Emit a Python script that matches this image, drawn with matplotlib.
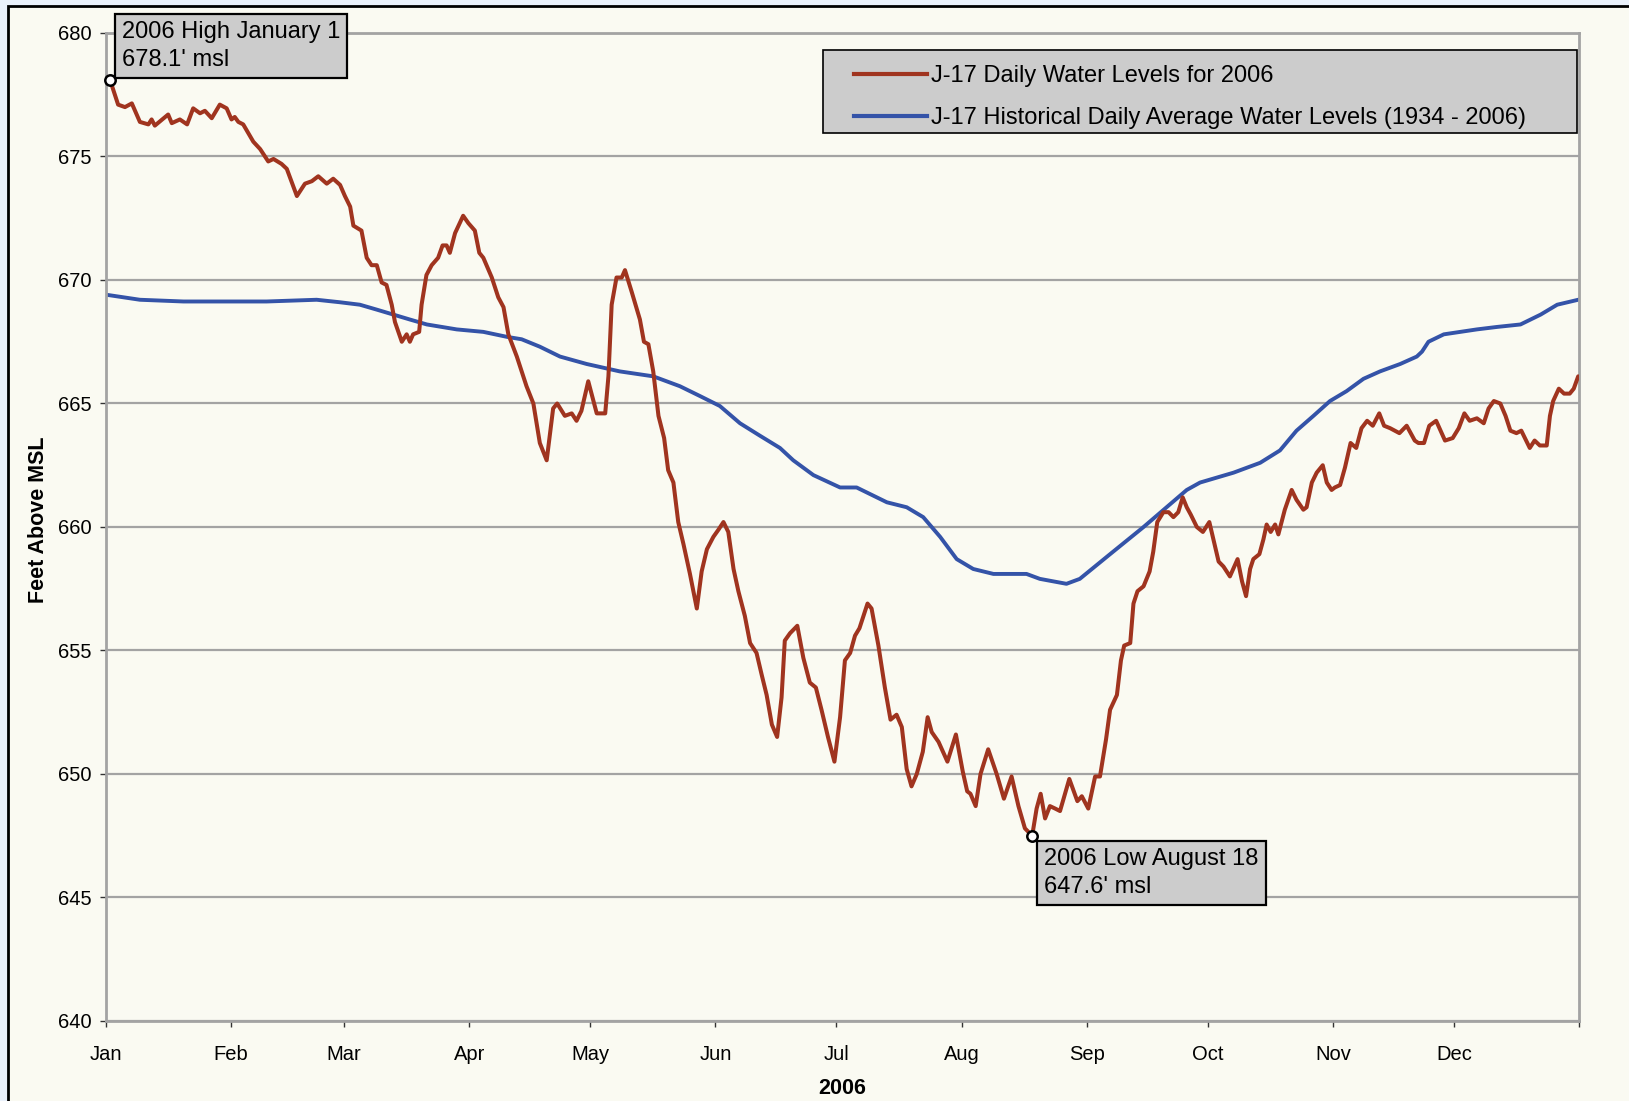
import numpy as np
import matplotlib
matplotlib.use("Agg")
import matplotlib.pyplot as plt
from matplotlib.patches import Rectangle
from matplotlib.lines import Line2D

plt.rcParams['font.family'] = ['Liberation Sans', 'DejaVu Sans']

# ---------------- data (day of year offset from Jan 1, feet above MSL) ----------------
red_days = [1.0, 3.0, 4.7, 6.4, 8.4, 10.5, 11.3, 12.1, 15.4, 16.3, 18.3, 20.1, 21.6, 23.3, 24.5,
            26.2, 28.2, 29.9, 31.1, 31.9, 32.8, 34.0, 36.5, 38.2, 40.2, 41.5, 43.5, 44.8, 47.3,
            49.3, 51.0, 52.6, 54.7, 56.3, 58.0, 59.2, 60.5, 61.3, 63.3, 64.6, 65.8, 67.1, 68.3,
            69.5, 70.8, 71.6, 73.3, 74.5, 75.3, 76.1, 77.6, 78.2, 79.4, 80.7, 82.3, 83.4, 84.4,
            85.2, 86.5, 88.5, 89.8, 91.4, 92.5, 93.5, 95.6, 97.2, 98.5, 99.7, 101.8, 104.2,
            105.9, 107.5, 109.2, 110.8, 111.8, 113.7, 115.4, 116.6, 117.8, 119.5, 121.6, 123.7,
            124.5, 125.3, 126.5, 127.8, 128.6, 130.3, 132.3, 133.3, 134.4, 135.6, 136.9, 138.3,
            139.3, 140.6, 141.8, 143.1, 144.7, 146.4, 147.6, 148.9, 150.5, 151.8, 153.0, 154.2,
            155.5, 156.7, 158.3, 159.6, 161.2, 162.5, 163.7, 165.0, 166.3, 167.4, 168.2, 169.5,
            171.3, 172.8, 174.4, 175.9, 177.3, 178.9, 180.5, 181.9, 183.1, 184.4, 185.6, 186.7,
            188.7, 189.7, 191.4, 193.0, 194.4, 195.9, 197.2, 198.4, 199.6, 200.9, 202.4, 203.6,
            204.6, 206.3, 208.5, 210.6, 212.3, 213.4, 214.2, 215.5, 216.7, 218.6, 220.7, 222.5,
            224.4, 226.1, 227.7, 229.5, 230.6, 231.6, 232.7, 233.9, 235.2, 236.4, 238.7, 240.7,
            241.8, 243.4, 245.1, 246.3, 247.8, 248.8, 250.5, 251.5, 252.3, 253.8, 254.6, 255.6,
            257.1, 258.6, 259.5, 260.5, 262.0, 263.3, 264.5, 265.7, 266.8, 267.8, 268.8, 270.3,
            271.8, 273.4, 274.4, 275.7, 276.9, 278.5, 280.4, 281.5, 282.5, 283.5, 284.3, 285.8,
            286.8, 287.6, 288.6, 289.7, 290.5, 292.1, 293.8, 295.0, 296.7, 297.5, 298.8, 300.0,
            301.5, 302.5, 303.7, 304.5, 305.8, 307.0, 308.4, 309.8, 311.1, 312.5, 313.9, 315.5,
            316.7, 318.2, 320.5, 322.3, 324.3, 325.2, 326.6, 327.9, 329.6, 331.8, 333.7, 335.2,
            336.6, 337.9, 339.7, 341.4, 342.6, 343.9, 345.5, 346.8, 348.0, 349.5, 350.7, 352.8,
            354.0, 355.3, 357.0, 357.8, 358.6, 360.0, 361.3, 362.7, 363.7, 364.8]
red_vals = [678.1, 677.1, 677.0, 677.15, 676.4, 676.3, 676.5, 676.25, 676.7, 676.35, 676.5, 676.3,
            676.95, 676.75, 676.85, 676.55, 677.1, 676.95, 676.5, 676.6, 676.4, 676.3, 675.6,
            675.3, 674.8, 674.9, 674.7, 674.5, 673.4, 673.9, 674.0, 674.2, 673.9, 674.1, 673.85,
            673.4, 672.97, 672.2, 672.0, 670.9, 670.6, 670.6, 669.9, 669.8, 669.0, 668.3, 667.5,
            667.8, 667.5, 667.8, 667.9, 669.0, 670.2, 670.6, 670.9, 671.4, 671.4, 671.1, 671.9,
            672.6, 672.3, 672.0, 671.1, 670.9, 670.1, 669.3, 668.9, 667.8, 666.9, 665.7, 665.0,
            663.4, 662.7, 664.8, 665.0, 664.5, 664.6, 664.3, 664.7, 665.9, 664.6, 664.6, 666.1,
            669.0, 670.1, 670.1, 670.4, 669.5, 668.4, 667.5, 667.4, 666.3, 664.5, 663.6, 662.3,
            661.8, 660.2, 659.3, 658.1, 656.7, 658.2, 659.1, 659.6, 659.9, 660.2, 659.8, 658.3,
            657.4, 656.4, 655.3, 654.9, 654.0, 653.2, 652.0, 651.5, 653.1, 655.4, 655.7, 656.0,
            654.7, 653.7, 653.5, 652.6, 651.5, 650.5, 652.3, 654.6, 654.9, 655.6, 655.9, 656.9,
            656.7, 655.2, 653.5, 652.2, 652.4, 651.9, 650.2, 649.5, 650.0, 650.9, 652.3, 651.7,
            651.3, 650.5, 651.6, 650.1, 649.3, 649.2, 648.7, 650.0, 651.0, 650.0, 649.0, 649.9,
            648.7, 647.8, 647.5, 648.6, 649.2, 648.2, 648.7, 648.6, 648.5, 649.8, 648.9, 649.1,
            648.6, 649.9, 649.9, 651.4, 652.6, 653.2, 654.6, 655.2, 655.3, 656.9, 657.4, 657.6,
            658.2, 659.0, 660.2, 660.6, 660.6, 660.4, 660.6, 661.2, 660.8, 660.5, 660.0, 659.8,
            660.2, 659.5, 658.6, 658.4, 658.0, 658.7, 657.8, 657.2, 658.3, 658.7, 658.9, 659.5,
            660.1, 659.8, 660.1, 659.7, 660.7, 661.5, 661.1, 660.7, 660.8, 661.8, 662.2, 662.5,
            661.8, 661.5, 661.6, 661.7, 662.4, 663.4, 663.2, 664.0, 664.3, 664.1, 664.6, 664.1,
            664.0, 663.8, 664.1, 663.5, 663.4, 663.4, 664.1, 664.3, 663.5, 663.6, 664.0, 664.6,
            664.3, 664.4, 664.2, 664.8, 665.1, 665.0, 664.5, 663.9, 663.8, 663.9, 663.2, 663.5,
            663.3, 663.3, 664.5, 665.1, 665.6, 665.4, 665.4, 665.6, 666.1]

blue_days = [0.2, 8.4, 19.2, 39.8, 52.2, 57.9, 62.9, 67.1, 71.2, 75.3, 79.5, 86.9, 93.5, 99.3,
             103.0, 107.5, 112.5, 119.1, 127.3, 135.6, 142.2, 147.2, 152.1, 157.1, 162.0, 167.0,
             170.3, 175.3, 181.9, 186.0, 193.5, 198.4, 202.5, 206.7, 210.8, 214.9, 219.9, 228.1,
             231.4, 238.0, 241.3, 248.8, 257.1, 267.8, 271.1, 279.4, 286.0, 290.9, 295.0, 299.2,
             303.3, 307.4, 311.6, 315.7, 320.7, 324.8, 326.1, 327.7, 331.5, 335.6, 339.7, 344.7,
             350.5, 355.5, 359.6, 364.8]
blue_vals = [669.4, 669.2, 669.13, 669.13, 669.2, 669.1, 669.0, 668.8, 668.6, 668.4, 668.2, 668.0,
             667.9, 667.7, 667.6, 667.3, 666.9, 666.6, 666.3, 666.1, 665.7, 665.3, 664.9, 664.2,
             663.7, 663.2, 662.7, 662.1, 661.6, 661.6, 661.0, 660.8, 660.4, 659.6, 658.7, 658.3,
             658.1, 658.1, 657.9, 657.7, 657.9, 658.9, 660.0, 661.5, 661.8, 662.2, 662.6, 663.1,
             663.9, 664.5, 665.1, 665.5, 666.0, 666.3, 666.6, 666.9, 667.1, 667.5, 667.8, 667.9,
             668.0, 668.1, 668.2, 668.6, 669.0, 669.2]

month_labels = ['Jan', 'Feb', 'Mar', 'Apr', 'May', 'Jun', 'Jul', 'Aug', 'Sep', 'Oct', 'Nov', 'Dec']
month_lengths = [31, 28, 31, 30, 31, 30, 31, 31, 30, 31, 30, 31]
y_ticks = [640, 645, 650, 655, 660, 665, 670, 675, 680]

series_labels = ['J-17 Daily Water Levels for 2006',
                 'J-17 Historical Daily Average Water Levels (1934 - 2006)']
high_text = "2006 High January 1\n678.1' msl"
low_text = "2006 Low August 18\n647.6' msl"

# ---------------- styling ----------------
W, H = 1629, 1101
RED = '#A0341F'
BLUE = '#3453A8'
CREAM = '#FAFAF2'
GRID = '#A3A3A3'
AX_L, AX_R, AX_T, AX_B = 106, 1579, 33, 1021   # axes box in pixels
AXW, AXH = AX_R - AX_L, AX_B - AX_T

fig = plt.figure(figsize=(W / 100, H / 100), dpi=100)
fig.patch.set_facecolor('#EAF1FB')
fig.patches.append(Rectangle((8 / W, -0.1), 1.2, 1.1 - 6 / H, transform=fig.transFigure,
                             facecolor=CREAM, edgecolor='black', linewidth=2.0, zorder=-10))

ax = fig.add_axes([AX_L / W, 1 - AX_B / H, AXW / W, AXH / H])
ax.set_facecolor(CREAM)

ax.plot(red_days, red_vals, color=RED, lw=2.9, solid_joinstyle='round', solid_capstyle='round',
        zorder=3)
ax.plot(blue_days, blue_vals, color=BLUE, lw=2.8, solid_joinstyle='round', zorder=2)

month_starts = np.concatenate([[0], np.cumsum(month_lengths)])
ax.set_xlim(0, month_starts[-1])
ax.set_ylim(y_ticks[0], y_ticks[-1])
ax.set_xticks(month_starts)
ax.set_xticklabels(month_labels + [''])
ax.set_yticks(y_ticks)

ax.yaxis.grid(True, color=GRID, lw=1.6)
ax.set_axisbelow(True)
for s in ['left', 'right', 'bottom', 'top']:
    ax.spines[s].set_color(GRID)
    ax.spines[s].set_linewidth(2.0)

ax.tick_params(axis='both', direction='out', colors='#333333', labelcolor='black',
               labelsize=14.5, length=4.5, width=1.0)
ax.tick_params(axis='y', pad=6.0)
ax.tick_params(axis='x', pad=13)

ax.set_xlabel('2006', fontsize=15.5, fontweight='bold')
ax.xaxis.set_label_coords(0.5, -(1078 - AX_B) / AXH)
ax.set_ylabel('Feet Above MSL', fontsize=15.5, fontweight='bold')
ax.yaxis.set_label_coords(-(AX_L - 49) / AXW, 0.5 + 7 / AXH)

# legend frame (pixels: x 823-1577, y 50-133) and entries
fx0, fx1, fy0, fy1 = 823, 1577, 50, 133
ax.add_patch(Rectangle(((fx0 - AX_L) / AXW, 1 - (fy1 - AX_T) / AXH),
                       (fx1 - fx0) / AXW, (fy1 - fy0) / AXH, transform=ax.transAxes,
                       facecolor='#CCCCCC', edgecolor='black', lw=1.2, zorder=6, clip_on=False))
handles = [Line2D([], [], color=RED, lw=3.0), Line2D([], [], color=BLUE, lw=3.0)]
leg = ax.legend(handles, series_labels, loc='center left',
                bbox_to_anchor=((854 - AX_L) / AXW, 1 - (97 - AX_T) / AXH),
                borderaxespad=0, borderpad=0, fontsize=17, handlelength=3.1,
                handletextpad=0.15, labelspacing=0.86, frameon=False)
leg.set_zorder(7)

# annotations
box = dict(boxstyle='square,pad=0.3', fc='#CCCCCC', ec='black', lw=1.6)
hi_x, hi_y = red_days[0], red_vals[0]
lo_i = int(np.argmin(red_vals))
lo_x, lo_y = red_days[lo_i], red_vals[lo_i]
for (x, y, txt, off, va) in [(hi_x, hi_y, high_text, (12, 9), 'bottom'),
                             (lo_x, lo_y, low_text, (12, -12), 'top')]:
    ax.plot([x], [y], 'o', mfc='white', mec='black', ms=7.5, mew=1.8, zorder=8, clip_on=False)
    ax.annotate(txt, xy=(x, y), xytext=off, textcoords='offset pixels', ha='left', va=va,
                fontsize=17, linespacing=1.35, bbox=box, zorder=9, annotation_clip=False)

fig.savefig('out.png', dpi=100, facecolor=fig.get_facecolor())
